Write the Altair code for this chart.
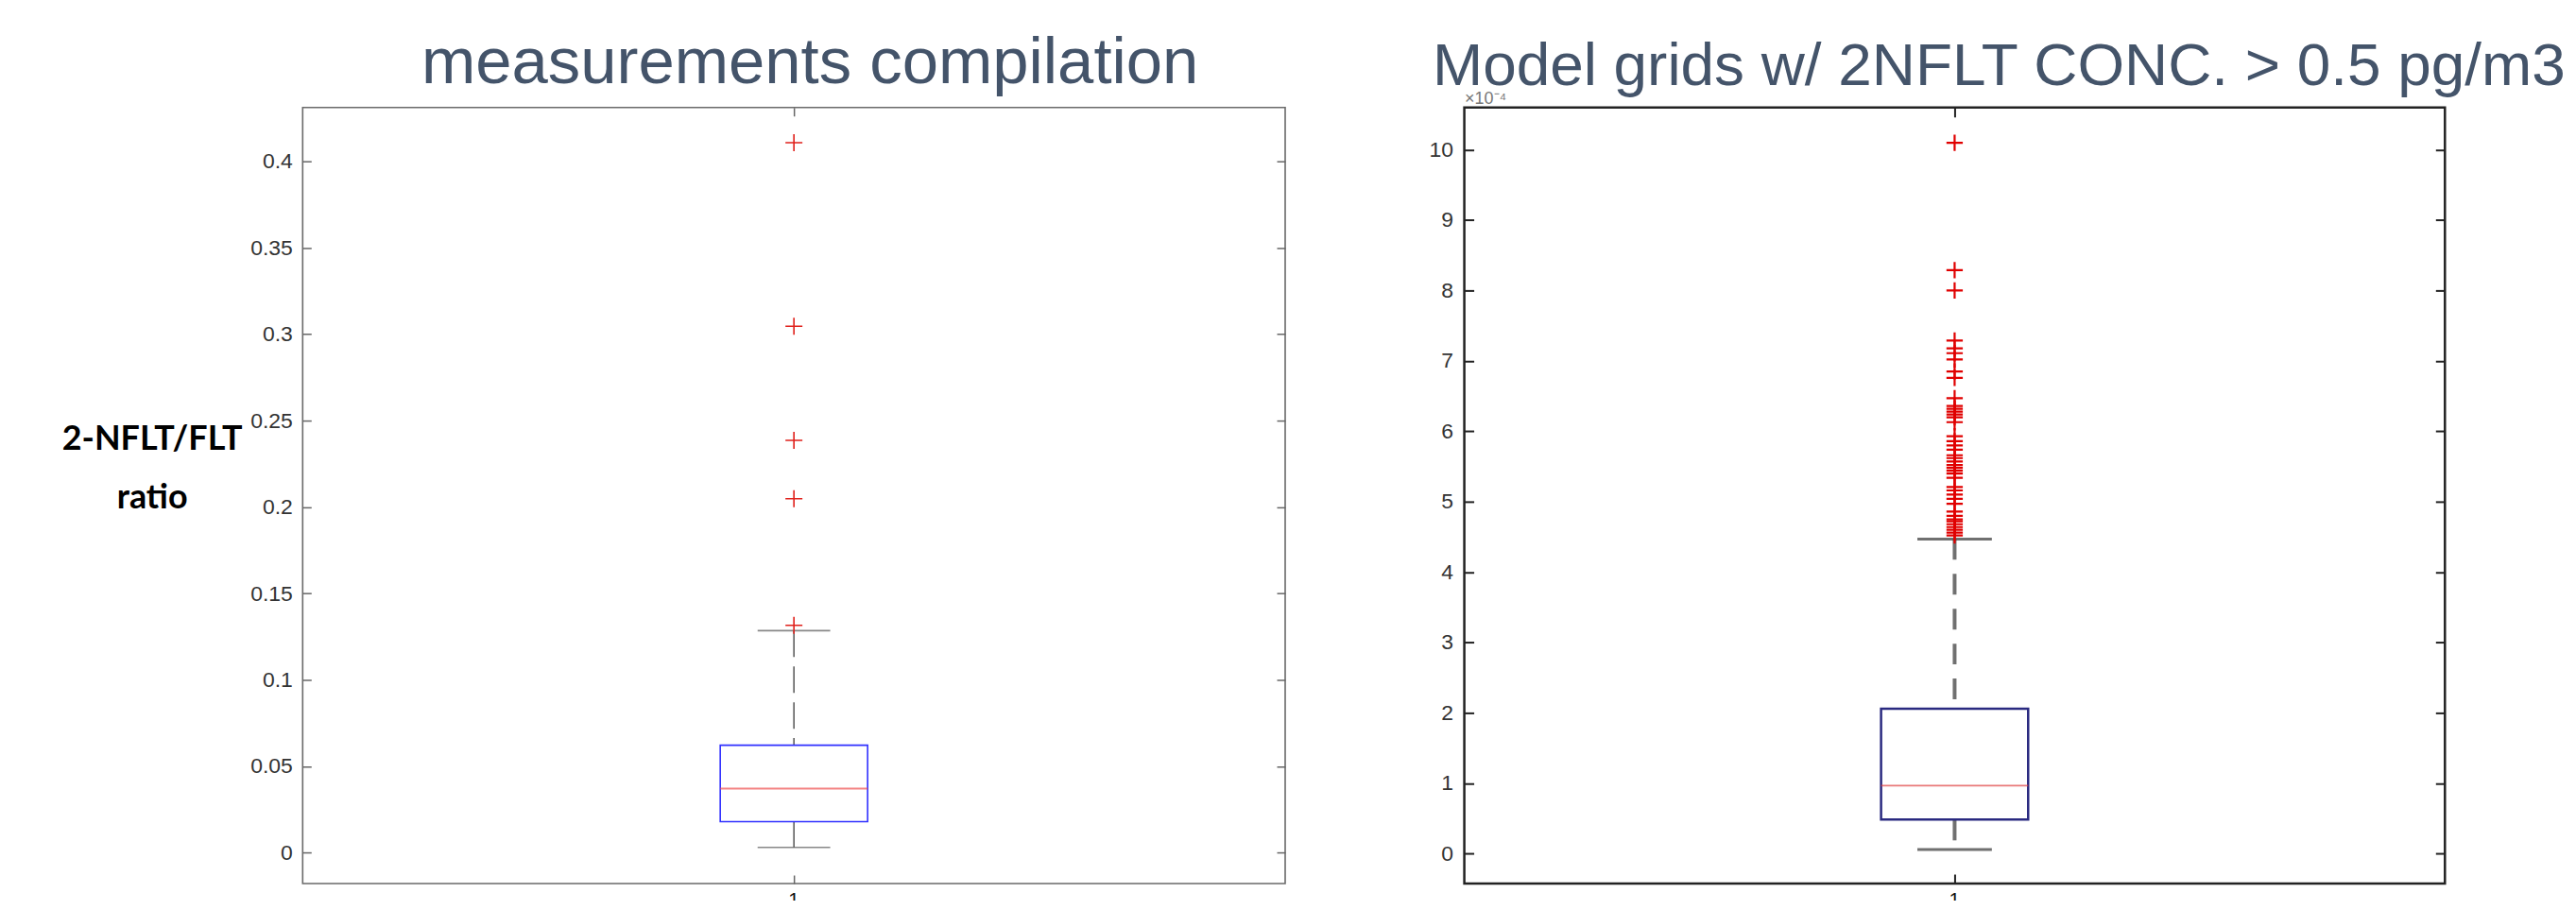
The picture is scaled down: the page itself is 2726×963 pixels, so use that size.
import altair as alt
import pandas as pd

# ---------------- data ----------------
categories = ["1"]

# left panel: measurements compilation (2-NFLT/FLT ratio)
left_stats = {"lower": 0.0031, "q1": 0.0180, "median": 0.0371, "q3": 0.0622, "upper": 0.1285}
left_outliers = [0.4108, 0.3046, 0.2386, 0.2048, 0.1316]
left_ticks = [0, 0.05, 0.1, 0.15, 0.2, 0.25, 0.3, 0.35, 0.4]
left_domain = [-0.0178, 0.4311]

# right panel: model grids (values in units of 1e-4)
right_stats = {"lower": 0.058, "q1": 0.483, "median": 0.966, "q3": 2.06, "upper": 4.47}
right_outliers = [10.10, 8.29, 8.00, 7.29, 7.18, 7.11, 7.02, 6.85, 6.76, 6.47,
                  6.36, 6.32, 6.28, 6.24, 6.20, 6.13, 5.93, 5.86, 5.80, 5.74,
                  5.66, 5.62, 5.57, 5.52, 5.48, 5.44, 5.40, 5.34, 5.21, 5.16,
                  5.10, 5.04, 4.97, 4.86, 4.80, 4.75, 4.72, 4.68, 4.64, 4.60,
                  4.56, 4.52]
right_ticks = [0, 1, 2, 3, 4, 5, 6, 7, 8, 9, 10]
right_domain = [-0.425, 10.60]

left_title = "measurements compilation"
right_title = "Model grids w/ 2NFLT CONC. > 0.5 pg/m3"
left_ylabel = ["2-NFLT/FLT", "ratio"]
right_exponent = "×10⁻⁴"

CROSS = "M-1,0L1,0M0,-1L0,1"


def panel(stats, outliers, ticks, fmt, domain, width, height, st, title, ytitle):
    box_df = pd.DataFrame({"cat": categories, **{k: [v] for k, v in stats.items()}})
    out_df = pd.DataFrame({"cat": categories * len(outliers), "v": outliers})
    yscale = alt.Scale(domain=domain, nice=False, zero=False)
    xscale = alt.Scale(paddingInner=0, paddingOuter=0)

    left_axis = alt.Axis(
        orient="left", values=ticks, format=fmt, grid=False, domain=False,
        tickSize=st["ticklen"], offset=-st["ticklen"], tickColor=st["tick"], tickWidth=st["tickw"],
        labelPadding=st["labpad"], labelFont="Liberation Sans", labelFontSize=st["labsize"],
        labelColor=st["labcol"], **ytitle)
    right_axis = alt.Axis(
        orient="right", values=ticks, grid=False, domain=False, labels=False, title=None,
        tickSize=st["ticklen"], offset=-st["ticklen"], tickColor=st["tick"], tickWidth=st["tickw"])
    bottom_axis = alt.Axis(
        orient="bottom", grid=False, domain=False, labelAngle=0, title=None,
        tickSize=st["ticklen"], offset=-st["ticklen"], tickColor=st["tick"], tickWidth=st["tickw"],
        labelPadding=7, labelFont="Liberation Sans", labelFontSize=21, labelColor="#111")
    top_axis = alt.Axis(
        orient="top", grid=False, domain=False, labels=False, title=None,
        tickSize=st["ticklen"], offset=-st["ticklen"], tickColor=st["tick"], tickWidth=st["tickw"])

    base = alt.Chart(box_df)
    x_plain = alt.X("cat:N", scale=xscale, axis=None)

    upper_wh = base.mark_rule(color=st["wh"], strokeWidth=st["whw"], strokeDash=st["dash"]).encode(
        x=alt.X("cat:N", scale=xscale, axis=bottom_axis),
        y=alt.Y("upper:Q", scale=yscale, axis=left_axis),
        y2="q3:Q")
    lower_wh = base.mark_rule(color=st["wh"], strokeWidth=st["whw"], strokeDash=st["dash"]).encode(
        x=x_plain, y=alt.Y("q1:Q", scale=yscale, axis=None), y2="lower:Q")
    box = base.mark_bar(width=alt.RelativeBandSize(0.15), fill="transparent",
                        stroke=st["box"], strokeWidth=st["boxw"]).encode(
        x=x_plain, y=alt.Y("q1:Q", scale=yscale, axis=None), y2="q3:Q")
    median = base.mark_tick(size=0.15 * width, thickness=st["medw"], color=st["med"]).encode(
        x=x_plain, y=alt.Y("median:Q", scale=yscale, axis=None))
    cap_hi = base.mark_tick(size=st["cap"], thickness=st["capw"], color=st["capc"]).encode(
        x=x_plain, y=alt.Y("upper:Q", scale=yscale, axis=None))
    cap_lo = base.mark_tick(size=st["cap"], thickness=st["capw"], color=st["capc"]).encode(
        x=x_plain, y=alt.Y("lower:Q", scale=yscale, axis=None))
    outl = alt.Chart(out_df).mark_point(shape=CROSS, size=st["xsize"], filled=False,
                                        stroke=st["out"], strokeWidth=st["outw"], opacity=1).encode(
        x=alt.X("cat:N", scale=xscale, axis=top_axis),
        y=alt.Y("v:Q", scale=yscale, axis=right_axis))

    return alt.layer(upper_wh, lower_wh, box, median, cap_hi, cap_lo, outl).resolve_axis(
        x="independent", y="independent").properties(
        width=width, height=height, title=title,
        view=alt.ViewBackground(stroke=st["frame"], strokeWidth=st["framew"]))


left_style = dict(ticklen=9, tick="#666", tickw=1.5, labpad=11, labsize=23, labcol="#333",
                  wh="#555", whw=1.5, dash=[28, 10], box="#3030ff", boxw=1.6, med="#f05050",
                  medw=2, cap=77, capw=1.6, capc="#555", xsize=324, out="#e0201b", outw=1.6,
                  frame="#6a6a6a", framew=1.6)
right_style = dict(ticklen=10, tick="#222", tickw=2, labpad=12, labsize=23, labcol="#333",
                   wh="#707070", whw=4, dash=[22, 15], box="#2a2a80", boxw=2.5, med="#e04040",
                   medw=1.6, cap=79, capw=3, capc="#333", xsize=300, out="#e00000", outw=2.2,
                   frame="#222", framew=2.5)

left_ytitle = dict(title=left_ylabel, titleAngle=0, titleFont="Lato", titleFontWeight="bold",
                   titleFontSize=36, titleColor="#000", titleAlign="center",
                   titleBaseline="alphabetic", titleX=-169, titleY=362, titleLineHeight=63)
right_ytitle = dict(title=right_exponent, titleAngle=0, titleFont="Liberation Sans",
                    titleFontWeight="normal", titleFontSize=18, titleColor="#777",
                    titleAlign="left", titleBaseline="alphabetic", titleX=-10, titleY=-4)

left_chart = panel(left_stats, left_outliers, left_ticks, "~g", left_domain, 1042, 823, left_style,
                   alt.TitleParams(text=left_title, font="Liberation Sans", fontSize=69,
                                   fontWeight="normal", color="#44546A", anchor="middle",
                                   baseline="alphabetic", offset=-44, dx=17),
                   left_ytitle)
right_chart = panel(right_stats, right_outliers, right_ticks, "d", right_domain, 1040, 823,
                    right_style,
                    alt.TitleParams(text=right_title, font="Liberation Sans",
                                    fontSize=64, fontWeight="normal", color="#44546A",
                                    anchor="middle", baseline="alphabetic", offset=-58, dx=47),
                    right_ytitle)

chart = alt.hconcat(left_chart, right_chart, spacing=190, bounds="flush").properties(
    autosize=alt.AutoSizeParams(type="none"),
    padding={"left": 313, "top": 105, "right": 2403, "bottom": 17},
    background="white",
)

chart.save("out.html", embed_options={"renderer": "svg", "actions": False})
